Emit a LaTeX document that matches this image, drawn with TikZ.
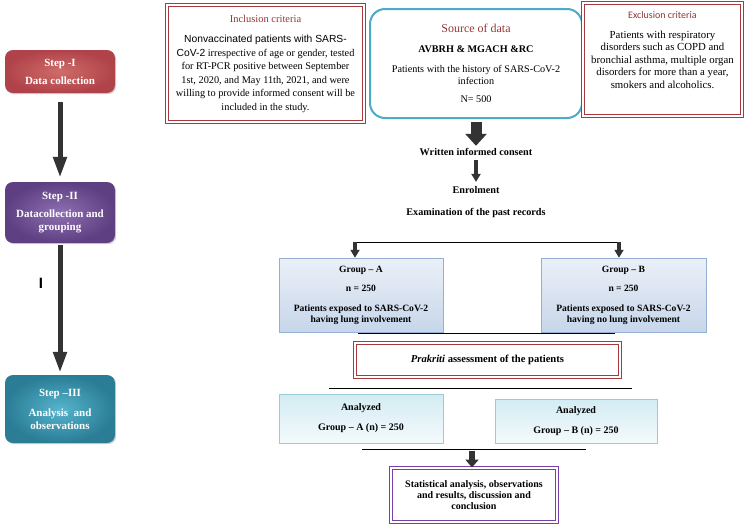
\documentclass[tikz,border=0pt]{standalone}
\usepackage{fontspec}
\setmainfont{Liberation Serif}
\newfontfamily\arialfont{Liberation Sans}
\newfontfamily\calibrifont{Carlito}
\usepackage{xcolor}
\usetikzlibrary{
    arrows.meta,
    positioning,
    calc,
    shadows
}
\definecolor{criteriared}{HTML}{A63A3C}
\definecolor{titlered}{HTML}{953735}
\definecolor{sourceblue}{HTML}{4BACC6}
\definecolor{statspurple}{HTML}{7A3FA8}
\definecolor{stepredin}{HTML}{CF6C69}
\definecolor{stepredout}{HTML}{B0434A}
\definecolor{steppurplein}{HTML}{8E70B2}
\definecolor{steppurpleout}{HTML}{5E3F82}
\definecolor{steptealin}{HTML}{55B4CC}
\definecolor{steptealout}{HTML}{2A7D95}
\definecolor{grouptop}{HTML}{EBF0F7}
\definecolor{groupbottom}{HTML}{C6D6EA}
\definecolor{groupline}{HTML}{95B0D2}
\definecolor{analyzedtop}{HTML}{D3ECF3}
\definecolor{analyzedbottom}{HTML}{F4FAFC}
\definecolor{analyzedline}{HTML}{9CCBD8}
\tikzset{
    stepbox/.style={
        rounded corners=8pt,
        minimum width=110pt,
        align=center,
        text=white,
        font=\bfseries\fontsize{11}{13}\selectfont,
        drop shadow={opacity=0.35, shadow xshift=1.2pt, shadow yshift=-1.2pt}
    }
}
\tikzset{
    criteria/.style={
        draw=criteriared,
        line width=1pt,
        double=white,
        double distance=1.6pt,
        fill=white,
        align=center,
        font=\fontsize{10.3}{13.5}\selectfont
    }
}
\tikzset{
    sourcebox/.style={
        draw=sourceblue,
        line width=2pt,
        rounded corners=15pt,
        fill=white,
        align=center,
        font=\fontsize{10.2}{12}\selectfont
    }
}
\tikzset{
    groupbox/.style={
        draw=groupline,
        line width=0.5pt,
        top color=grouptop,
        bottom color=groupbottom,
        align=center,
        font=\bfseries\fontsize{9.6}{11}\selectfont,
        drop shadow={opacity=0.25, shadow xshift=1pt, shadow yshift=-1pt}
    }
}
\tikzset{
    analyzedbox/.style={
        draw=analyzedline,
        line width=0.5pt,
        top color=analyzedtop,
        bottom color=analyzedbottom,
        align=center,
        font=\bfseries\fontsize{10}{11}\selectfont,
        drop shadow={opacity=0.25, shadow xshift=1pt, shadow yshift=-1pt}
    }
}
\tikzset{
    flowtext/.style={
        align=center,
        font=\bfseries\fontsize{10.2}{11}\selectfont
    }
}
\tikzset{
    rule/.style={
        draw=black,
        line width=1pt
    }
}
\tikzset{
    steparrow/.style={
        draw=black!80,
        line width=5pt,
        -{Triangle[width=13pt,length=21pt]}
    }
}
\tikzset{
    bigarrow/.style={
        draw=black!80,
        line width=11pt,
        -{Triangle[width=21pt,length=12pt]}
    }
}
\tikzset{
    smallarrow/.style={
        draw=black!80,
        line width=4.5pt,
        -{Triangle[width=9pt,length=8pt]}
    }
}
\tikzset{
    midarrow/.style={
        draw=black!80,
        line width=6pt,
        -{Triangle[width=13pt,length=8pt]}
    }
}

\begin{document}
\begin{tikzpicture}[
    x=1pt,
    y=-1pt,
    >=Latex,
    font=\fontsize{9}{11}\selectfont
]
\useasboundingbox (0,0) rectangle (747,528);

% steps on the left
\node[stepbox, minimum height=43pt, inner color=stepredin, outer color=stepredout] (step1) at (60,71.5)
    {Step -I\\[5pt]Data collection};
\node[stepbox, minimum height=61pt, inner color=steppurplein, outer color=steppurpleout] (step2) at (60,212.5)
    {Step -II\\[5pt]Datacollection and\\grouping};
\node[stepbox, minimum height=68pt, inner color=steptealin, outer color=steptealout] (step3) at (60,409)
    {Step –III\\[7pt]Analysis~ and\\observations};

\draw[steparrow, shorten <=9pt, shorten >=4pt] (step1.south) -- (step2.north);
\draw[steparrow, shorten <=2pt, shorten >=2pt] (step2.south) -- (step3.north);
\node[font=\arialfont\bfseries\fontsize{15}{15}\selectfont] (mark) at (41,283) {I};

% top row
\node[criteria, minimum width=197pt, minimum height=117pt] (inclusion) at (265.5,63.5)
    {{\color{titlered}\fontsize{10.5}{12}\selectfont Inclusion criteria}\\[7pt]
     {\arialfont Nonvaccinated patients with SARS-}\\
     {\arialfont CoV-2} irrespective of age or gender, tested\\
     for RT-PCR positive between September\\
     1st, 2020, and May 11th, 2021, and were\\
     willing to provide informed consent will be\\
     included in the study.};

\node[sourcebox, minimum width=212pt, minimum height=109pt] (source) at (476,63.5)
    {{\color{titlered}\fontsize{12}{13}\selectfont Source of data}\\[8pt]
     \textbf{AVBRH \& MGACH \&RC}\\[8pt]
     Patients with the history of SARS-CoV-2\\
     infection\\[6pt]
     N= 500};

\node[criteria, minimum width=159pt, minimum height=113pt, inner sep=3pt] (exclusion) at (662.5,59.5)
    {\parbox[t][102pt][t]{152pt}{\centering\fontsize{10.8}{12.5}\selectfont
     \rule{0pt}{10pt}{\calibrifont\fontsize{10}{12}\selectfont\color{titlered}Exclusion criteria}\\[7pt]
     Patients with respiratory\\
     disorders such as COPD and\\
     bronchial asthma, multiple organ\\
     disorders for more than a year,\\
     smokers and alcoholics.}};

% middle flow
\node[flowtext] (consent) at (476,152) {Written informed consent};
\node[flowtext] (enrolment) at (476,190) {Enrolment};
\node[flowtext] (exam) at (476,213) {Examination of the past records};

\draw[bigarrow, shorten <=3pt, shorten >=-1pt] (source.south) -- (consent.north);
\draw[smallarrow, shorten <=1pt, shorten >=1pt] (consent.south) -- (enrolment.north);

\node[groupbox, minimum width=164pt, minimum height=74pt] (groupA) at (361,295)
    {Group – A\\[8pt]n = 250\\[9pt]Patients exposed to SARS-CoV-2\\having lung involvement};
\node[groupbox, minimum width=165pt, minimum height=74pt] (groupB) at (623.5,295)
    {Group – B\\[8pt]n = 250\\[9pt]Patients exposed to SARS-CoV-2\\having no lung involvement};

\coordinate (splitA) at (355,242);
\coordinate (splitB) at (619,242);
\draw[rule] (splitA) -- (splitB);
\draw[smallarrow, line width=4pt] (splitA) -- (splitA |- groupA.north);
\draw[smallarrow, line width=4pt] (splitB) -- (splitB |- groupB.north);

\coordinate (ruleAl) at (358,333);
\coordinate (ruleAr) at (615,333);
\draw[rule] (ruleAl) -- (ruleAr);

\node[criteria, minimum width=265pt, minimum height=34pt] (prakriti) at (487.5,360)
    {\fontsize{10.6}{12}\selectfont\textbf{\textit{Prakriti} assessment of the patients}};

\coordinate (ruleBl) at (329,388);
\coordinate (ruleBr) at (632,388);
\draw[rule] (ruleBl) -- (ruleBr);

\node[analyzedbox, minimum width=164pt, minimum height=49pt] (analyzedA) at (361,418.5)
    {Analyzed\\[9pt]Group – A (n) = 250};
\node[analyzedbox, minimum width=162pt, minimum height=44pt] (analyzedB) at (576,421)
    {Analyzed\\[9pt]Group – B (n) = 250};

\coordinate (ruleCl) at (362,449);
\coordinate (ruleCr) at (586,449);
\draw[rule] (ruleCl) -- (ruleCr);

\node[criteria, draw=statspurple, minimum width=166pt, minimum height=54pt, font=\bfseries\fontsize{10}{11}\selectfont] (stats) at (474,495)
    {Statistical analysis, observations\\and results, discussion and\\conclusion};

\coordinate (merge) at (472,451);
\draw[midarrow] (merge) -- (merge |- stats.north);

\end{tikzpicture}
\end{document}
